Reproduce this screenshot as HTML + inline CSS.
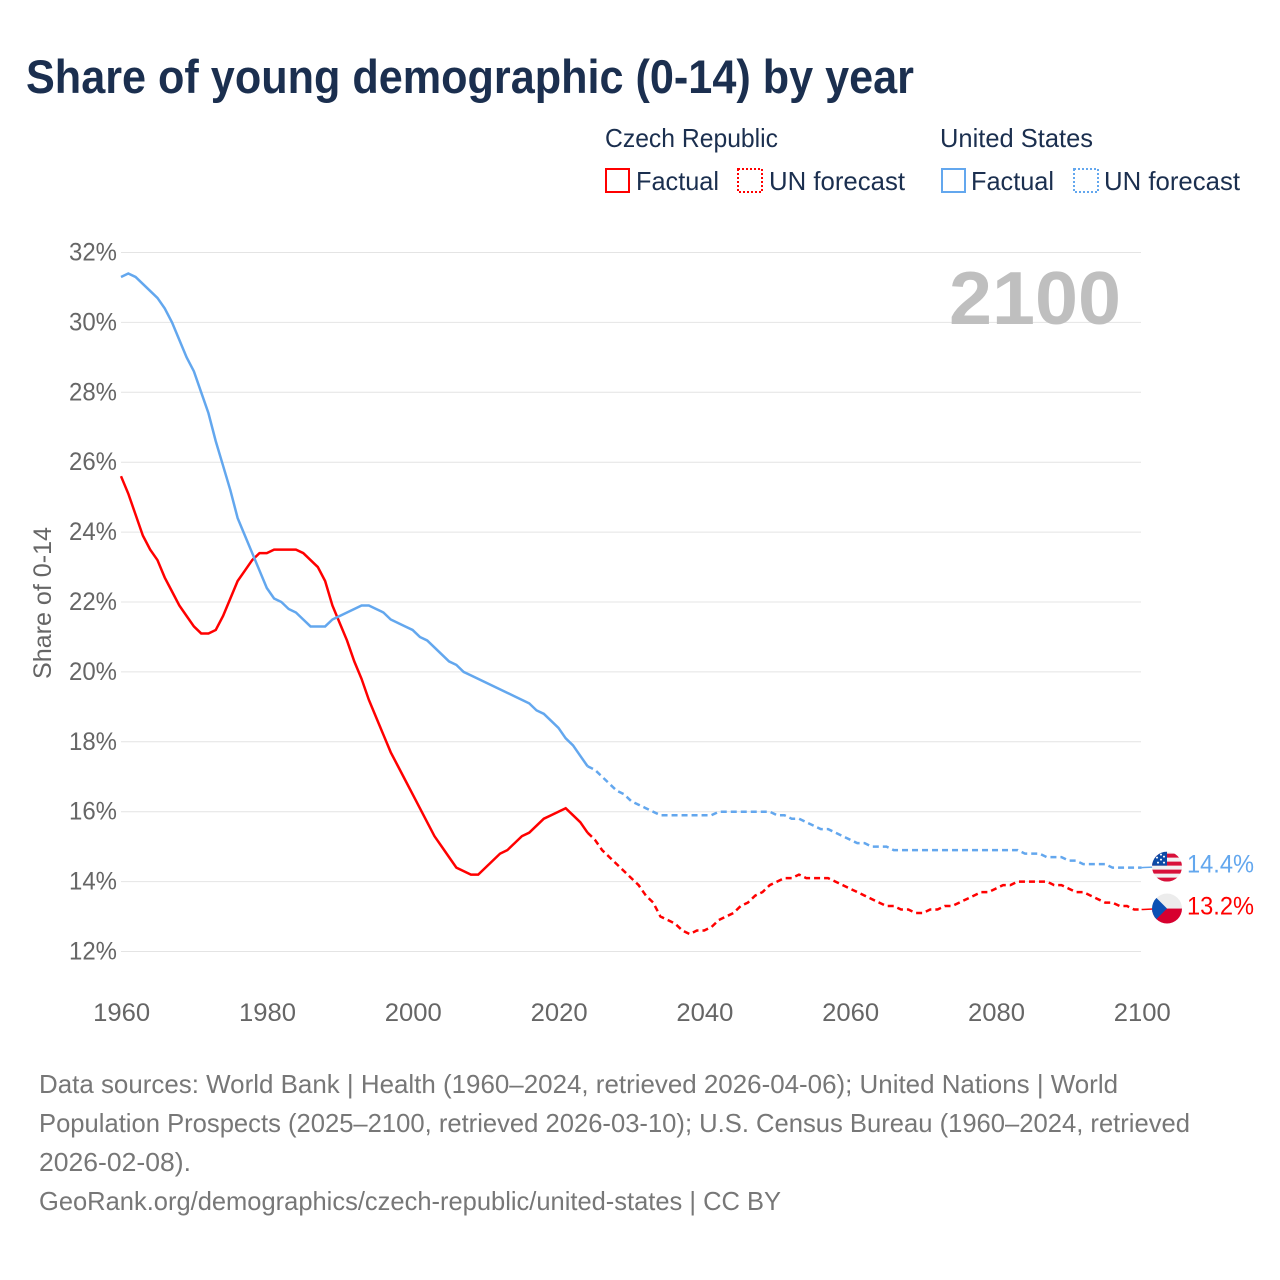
<!DOCTYPE html>
<html lang="en">
<head>
<meta charset="utf-8">
<title>Share of young demographic (0-14) by year</title>
<style>
html,body{margin:0;padding:0;background:#fff;width:1280px;height:1280px;overflow:hidden}
svg{display:block}
text{font-family:"Liberation Sans",sans-serif}
.legend{font-size:26px;fill:#1b2f4f}
.foot{font-size:26px;fill:#777}
.tick{font-size:25px;fill:#666}
</style>
</head>
<body>
<svg id="chart" width="1280" height="1280" viewBox="0 0 1280 1280" xmlns="http://www.w3.org/2000/svg">
  <defs>
    <clipPath id="flag-clip"><circle cx="0" cy="0" r="15"></circle></clipPath>
  </defs>
  <rect width="1280" height="1280" fill="#fff"></rect>
  <text x="26" y="93" font-size="47" font-weight="700" fill="#1b2f4f" textLength="888" lengthAdjust="spacingAndGlyphs">Share of young demographic (0-14) by year</text>

  <g>
    <text class="legend" x="605" y="147" textLength="173" lengthAdjust="spacingAndGlyphs">Czech Republic</text>
    <rect x="606" y="169" width="23" height="23" fill="none" stroke="#ff0000" stroke-width="2"></rect>
    <text class="legend" x="636" y="190" textLength="83" lengthAdjust="spacingAndGlyphs">Factual</text>
    <rect x="738" y="169" width="24" height="23" fill="none" stroke="#ff0000" stroke-width="2" stroke-dasharray="2 2"></rect>
    <text class="legend" x="769" y="190" textLength="136" lengthAdjust="spacingAndGlyphs">UN forecast</text>
    <text class="legend" x="940" y="147" textLength="153" lengthAdjust="spacingAndGlyphs">United States</text>
    <rect x="942" y="169" width="23" height="23" fill="none" stroke="#63a7ee" stroke-width="2"></rect>
    <text class="legend" x="971" y="190" textLength="83" lengthAdjust="spacingAndGlyphs">Factual</text>
    <rect x="1074" y="169" width="24" height="23" fill="none" stroke="#63a7ee" stroke-width="2" stroke-dasharray="2 2"></rect>
    <text class="legend" x="1104" y="190" textLength="136" lengthAdjust="spacingAndGlyphs">UN forecast</text>
  </g>

  <g id="grid"></g>
  <g id="ytick-labels"></g>
  <g id="xtick-labels"></g>

  <text class="tick" transform="translate(51,679) rotate(-90)" x="0" y="0" textLength="152" lengthAdjust="spacingAndGlyphs">Share of 0-14</text>
  <text x="1121" y="324" text-anchor="end" font-size="75" font-weight="700" fill="#bfbfbf" textLength="172" lengthAdjust="spacingAndGlyphs">2100</text>

  <g id="series"></g>

  <g id="flag-us" clip-path="url(#flag-clip)">
    <rect x="-15" y="-15" width="30" height="30" fill="#f2f2f2"></rect>
    <rect x="-15" y="-13" width="30" height="4" fill="#d8113a"></rect>
    <rect x="-15" y="-5" width="30" height="4" fill="#d8113a"></rect>
    <rect x="-15" y="3" width="30" height="4" fill="#d8113a"></rect>
    <rect x="-15" y="11" width="30" height="4" fill="#d8113a"></rect>
    <rect x="-15" y="-15" width="15" height="14" fill="#0d4aa6"></rect>
    <circle cx="-10" cy="-9" r="1" fill="#fff"></circle>
    <circle cx="-6" cy="-12" r="1" fill="#fff"></circle>
    <circle cx="-6" cy="-7" r="1" fill="#fff"></circle>
    <circle cx="-3" cy="-10" r="1" fill="#fff"></circle>
    <circle cx="-3" cy="-4" r="1" fill="#fff"></circle>
    <circle cx="-9" cy="-4" r="1" fill="#fff"></circle>
  </g>
  <g id="flag-cz" clip-path="url(#flag-clip)">
    <rect x="-15" y="-15" width="30" height="15" fill="#ececec"></rect>
    <rect x="-15" y="0" width="30" height="15" fill="#d7002f"></rect>
    <polygon points="-15,-15 0,0 -15,15" fill="#0c50b4"></polygon>
  </g>
  <text id="value-us" x="1187" y="873" font-size="25" fill="#63a7ee" textLength="67" lengthAdjust="spacingAndGlyphs"></text>
  <text id="value-cz" x="1187" y="915" font-size="25" fill="#ff0000" textLength="67" lengthAdjust="spacingAndGlyphs"></text>

  <g>
    <text class="foot" x="39" y="1093" textLength="1079" lengthAdjust="spacingAndGlyphs">Data sources: World Bank | Health (1960–2024, retrieved 2026-04-06); United Nations | World</text>
    <text class="foot" x="39" y="1132" textLength="1151" lengthAdjust="spacingAndGlyphs">Population Prospects (2025–2100, retrieved 2026-03-10); U.S. Census Bureau (1960–2024, retrieved</text>
    <text class="foot" x="39" y="1171" textLength="152" lengthAdjust="spacingAndGlyphs">2026-02-08).</text>
    <text class="foot" x="39" y="1210" textLength="742" lengthAdjust="spacingAndGlyphs">GeoRank.org/demographics/czech-republic/united-states | CC BY</text>
  </g>
</svg>
<script>
var startYear = 1960;
var lastFactualYear = 2024;
var xTicks = [1960, 1980, 2000, 2020, 2040, 2060, 2080, 2100];
var yTicks = [12, 14, 16, 18, 20, 22, 24, 26, 28, 30, 32];
var czechValues = [
  25.6,25.1,24.5,23.9,23.5,23.2,22.7,22.3,21.9,21.6,
  21.3,21.1,21.1,21.2,21.6,22.1,22.6,22.9,23.2,23.4,
  23.4,23.5,23.5,23.5,23.5,23.4,23.2,23.0,22.6,21.9,
  21.4,20.9,20.3,19.8,19.2,18.7,18.2,17.7,17.3,16.9,
  16.5,16.1,15.7,15.3,15.0,14.7,14.4,14.3,14.2,14.2,
  14.4,14.6,14.8,14.9,15.1,15.3,15.4,15.6,15.8,15.9,
  16.0,16.1,15.9,15.7,15.4,15.2,14.9,14.7,14.5,14.3,
  14.1,13.9,13.6,13.4,13.0,12.9,12.8,12.6,12.5,12.6,
  12.6,12.7,12.9,13.0,13.1,13.3,13.4,13.6,13.7,13.9,
  14.0,14.1,14.1,14.2,14.1,14.1,14.1,14.1,14.0,13.9,
  13.8,13.7,13.6,13.5,13.4,13.3,13.3,13.2,13.2,13.1,
  13.1,13.2,13.2,13.3,13.3,13.4,13.5,13.6,13.7,13.7,
  13.8,13.9,13.9,14.0,14.0,14.0,14.0,14.0,13.9,13.9,
  13.8,13.7,13.7,13.6,13.5,13.4,13.4,13.3,13.3,13.2,
  13.2
];
var usValues = [
  31.3,31.4,31.3,31.1,30.9,30.7,30.4,30.0,29.5,29.0,
  28.6,28.0,27.4,26.6,25.9,25.2,24.4,23.9,23.4,22.9,
  22.4,22.1,22.0,21.8,21.7,21.5,21.3,21.3,21.3,21.5,
  21.6,21.7,21.8,21.9,21.9,21.8,21.7,21.5,21.4,21.3,
  21.2,21.0,20.9,20.7,20.5,20.3,20.2,20.0,19.9,19.8,
  19.7,19.6,19.5,19.4,19.3,19.2,19.1,18.9,18.8,18.6,
  18.4,18.1,17.9,17.6,17.3,17.2,17.0,16.8,16.6,16.5,
  16.3,16.2,16.1,16.0,15.9,15.9,15.9,15.9,15.9,15.9,
  15.9,15.9,16.0,16.0,16.0,16.0,16.0,16.0,16.0,16.0,
  15.9,15.9,15.8,15.8,15.7,15.6,15.5,15.5,15.4,15.3,
  15.2,15.1,15.1,15.0,15.0,15.0,14.9,14.9,14.9,14.9,
  14.9,14.9,14.9,14.9,14.9,14.9,14.9,14.9,14.9,14.9,
  14.9,14.9,14.9,14.9,14.8,14.8,14.8,14.7,14.7,14.7,
  14.6,14.6,14.5,14.5,14.5,14.5,14.4,14.4,14.4,14.4,
  14.4
];

var NS = 'http://www.w3.org/2000/svg';
function xScale(year) { return 121 + (year - 1960) * (1141.6 - 121) / 140; }
function yScale(v) { return 951.5 + (v - 12) * (252.5 - 951.5) / 20; }
function make(tag, parent) {
  var el = document.createElementNS(NS, tag);
  parent.appendChild(el);
  return el;
}

var grid = document.getElementById('grid');
var yLabels = document.getElementById('ytick-labels');
yTicks.forEach(function (t) {
  var line = make('line', grid);
  
  
  line.setAttribute('x1', 121);
  line.setAttribute('x2', 1141);
  line.setAttribute('y1', yScale(t));
  line.setAttribute('y2', yScale(t));
  line.setAttribute('stroke', '#e4e4e4');
  line.setAttribute('stroke-width', 1);
  var label = make('text', yLabels);
  
  
  label.setAttribute('class', 'tick');
  label.setAttribute('x', 117);
  label.setAttribute('y', yScale(t) + 8);
  label.setAttribute('text-anchor', 'end');
  label.setAttribute('textLength', 48);
  label.setAttribute('lengthAdjust', 'spacingAndGlyphs');
  label.textContent = t + '%';
});

var xLabels = document.getElementById('xtick-labels');
xTicks.forEach(function (t) {
  var label = make('text', xLabels);
  
  
  label.setAttribute('class', 'tick');
  label.setAttribute('x', xScale(t) + 0.7);
  label.setAttribute('y', 1021);
  label.setAttribute('text-anchor', 'middle');
  label.setAttribute('textLength', 57);
  label.setAttribute('lengthAdjust', 'spacingAndGlyphs');
  label.textContent = t;
});

var seriesGroup = document.getElementById('series');
function drawSeries(values, color, key) {
  var factual = [];
  var forecast = [];
  values.forEach(function (v, i) {
    var year = startYear + i;
    var pt = xScale(year).toFixed(2) + ',' + yScale(v).toFixed(2);
    if (year <= lastFactualYear) { factual.push(pt); }
    if (year >= lastFactualYear) { forecast.push(pt); }
  });
  var last = values[values.length - 1];
  var solid = make('polyline', seriesGroup);
  
  
  solid.setAttribute('points', factual.join(' '));
  solid.setAttribute('fill', 'none');
  solid.setAttribute('stroke', color);
  solid.setAttribute('stroke-width', 2.5);
  var dashed = make('polyline', seriesGroup);
  
  
  dashed.setAttribute('points', forecast.join(' '));
  dashed.setAttribute('fill', 'none');
  dashed.setAttribute('stroke', color);
  dashed.setAttribute('stroke-width', 2.5);
  dashed.setAttribute('stroke-dasharray', '6 4');
  var connector = make('line', seriesGroup);
  
  
  connector.setAttribute('x1', xScale(startYear + values.length - 1));
  connector.setAttribute('x2', 1153);
  connector.setAttribute('y1', yScale(last));
  connector.setAttribute('y2', yScale(last) - 0.5);
  connector.setAttribute('stroke', color);
  connector.setAttribute('stroke-width', 1.5);
  return last;
}
var czLast = drawSeries(czechValues, '#ff0000', 'czech');
var usLast = drawSeries(usValues, '#63a7ee', 'us');

document.getElementById('flag-us').setAttribute('transform', 'translate(1167,' + (yScale(usLast) - 1) + ')');
document.getElementById('flag-cz').setAttribute('transform', 'translate(1167,' + (yScale(czLast) - 1) + ')');
var usText = document.getElementById('value-us');
usText.setAttribute('y', yScale(usLast) + 5);
usText.textContent = usLast.toFixed(1) + '%';
var czText = document.getElementById('value-cz');
czText.setAttribute('y', yScale(czLast) + 5);
czText.textContent = czLast.toFixed(1) + '%';
</script>
</body>
</html>
